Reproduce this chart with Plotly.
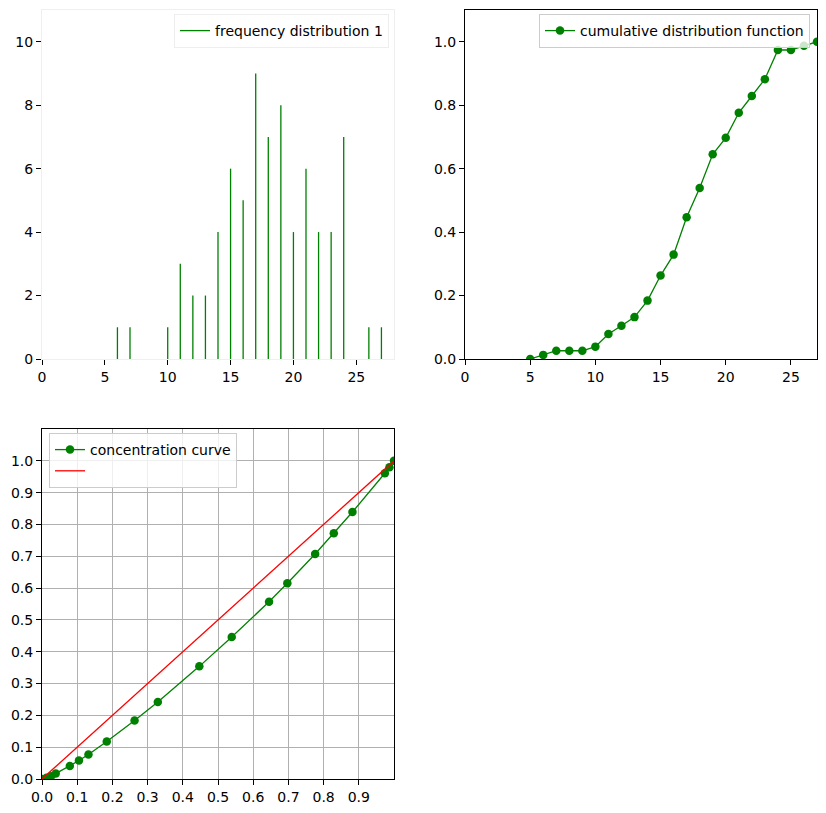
import plotly.graph_objects as go

# ---- data ----
freq_x = [6, 7, 10, 11, 12, 13, 14, 15, 16, 17, 18, 19, 20, 21, 22, 23, 24, 26, 27]
freq_y = [1, 1, 1, 3, 2, 2, 4, 6, 5, 9, 7, 8, 4, 6, 4, 4, 7, 1, 1]

cdf_x = [5, 6, 7, 8, 9, 10, 11, 12, 13, 14, 15, 16, 17, 18, 19, 20, 21, 22, 23, 24, 25, 26, 27]
cdf_y = [0.0, 0.013, 0.026, 0.026, 0.026, 0.039, 0.079, 0.105, 0.132, 0.184, 0.263, 0.329,
         0.447, 0.539, 0.645, 0.697, 0.776, 0.829, 0.882, 0.974, 0.974, 0.987, 1.0]

conc_x = [0.0, 0.013, 0.026, 0.039, 0.079, 0.105, 0.132, 0.184, 0.263, 0.329, 0.447, 0.539,
          0.645, 0.697, 0.776, 0.829, 0.882, 0.974, 0.987, 1.0]
conc_y = [0.0, 0.004, 0.009, 0.017, 0.041, 0.058, 0.077, 0.118, 0.184, 0.242, 0.354, 0.446,
          0.557, 0.615, 0.707, 0.772, 0.839, 0.961, 0.980, 1.0]

diag_x = [0.0, 1.0]
diag_y = [0.0, 1.0]

GREEN = "#008000"
FONT = "DejaVu Sans, Liberation Sans, sans-serif"

W, H = 826, 813

def dx(a, b):
    return [a / W, b / W]

def dy(top, bottom):
    return [(H - bottom) / H, (H - top) / H]

# stems from frequency data
stem_x, stem_y = [], []
for xv, yv in zip(freq_x, freq_y):
    stem_x += [xv, xv, None]
    stem_y += [0, yv, None]

fig = go.Figure()

fig.add_trace(go.Scatter(
    x=stem_x, y=stem_y, mode="lines", name="frequency distribution 1",
    line=dict(color=GREEN, width=1.3), xaxis="x", yaxis="y", legend="legend",
    showlegend=True,
))
fig.add_trace(go.Scatter(
    x=cdf_x, y=cdf_y, mode="lines+markers", name="cumulative distribution function",
    line=dict(color=GREEN, width=1.3), marker=dict(color=GREEN, size=8.5),
    xaxis="x2", yaxis="y2", legend="legend2", showlegend=True,
))
fig.add_trace(go.Scatter(
    x=conc_x, y=conc_y, mode="lines+markers", name="concentration curve",
    line=dict(color=GREEN, width=1.3), marker=dict(color=GREEN, size=8.5),
    xaxis="x3", yaxis="y3", legend="legend3", showlegend=True,
))
fig.add_trace(go.Scatter(
    x=diag_x, y=diag_y, mode="lines", name=" ",
    line=dict(color="#ff0000", width=1.3),
    xaxis="x3", yaxis="y3", legend="legend3", showlegend=True,
))

tickfont = dict(family=FONT, size=14, color="#000000")
common_ax = dict(showgrid=False, zeroline=False, ticks="outside", ticklen=5,
                 tickcolor="#000000", tickwidth=1, tickfont=tickfont,
                 automargin=False, mirror=True, showline=True)

legfont = dict(family=FONT, size=14, color="#000000")

fig.update_layout(
    width=W, height=H,
    margin=dict(l=0, r=0, t=0, b=0),
    paper_bgcolor="white", plot_bgcolor="white",
    font=dict(family=FONT, size=14),
    showlegend=True,
    xaxis=dict(**common_ax, domain=dx(42, 394), range=[0, 28], tickvals=[0, 5, 10, 15, 20, 25],
               linecolor="#efefef", anchor="y"),
    yaxis=dict(**common_ax, domain=dy(10, 359), range=[0, 11], tickvals=[0, 2, 4, 6, 8, 10],
               linecolor="#efefef", anchor="x"),
    xaxis2=dict(**common_ax, domain=dx(465, 817), range=[0, 27], tickvals=[0, 5, 10, 15, 20, 25],
                linecolor="#000000", anchor="y2"),
    yaxis2=dict(**common_ax, domain=dy(10, 359), range=[0, 1.1],
                tickvals=[0, 0.2, 0.4, 0.6, 0.8, 1.0], tickformat=".1f",
                linecolor="#000000", anchor="x2"),
    xaxis3=dict(**{**common_ax, "showgrid": True}, domain=dx(42, 394), range=[0, 1.0],
                tickvals=[0, 0.1, 0.2, 0.3, 0.4, 0.5, 0.6, 0.7, 0.8, 0.9], tickformat=".1f",
                gridcolor="#b0b0b0", gridwidth=1, linecolor="#000000", anchor="y3"),
    yaxis3=dict(**{**common_ax, "showgrid": True}, domain=dy(429, 779), range=[0, 1.1],
                tickvals=[0, 0.1, 0.2, 0.3, 0.4, 0.5, 0.6, 0.7, 0.8, 0.9, 1.0], tickformat=".1f",
                gridcolor="#b0b0b0", gridwidth=1, linecolor="#000000", anchor="x3"),
    legend=dict(x=389 / W, y=(H - 14) / H, xanchor="right", yanchor="top",
                bgcolor="rgba(255,255,255,0.8)", bordercolor="#eeeeee", borderwidth=1,
                font=legfont, itemwidth=30, tracegroupgap=0, visible=True),
    legend2=dict(x=810 / W, y=(H - 14) / H, xanchor="right", yanchor="top",
                 bgcolor="rgba(255,255,255,0.8)", bordercolor="#cccccc", borderwidth=1,
                 font=legfont, itemwidth=30, tracegroupgap=0),
    legend3=dict(x=49 / W, y=(H - 433) / H, xanchor="left", yanchor="top",
                 bgcolor="rgba(255,255,255,0.8)", bordercolor="#cccccc", borderwidth=1,
                 font=legfont, itemwidth=30, tracegroupgap=0),
)

fig.write_html("out.html")
